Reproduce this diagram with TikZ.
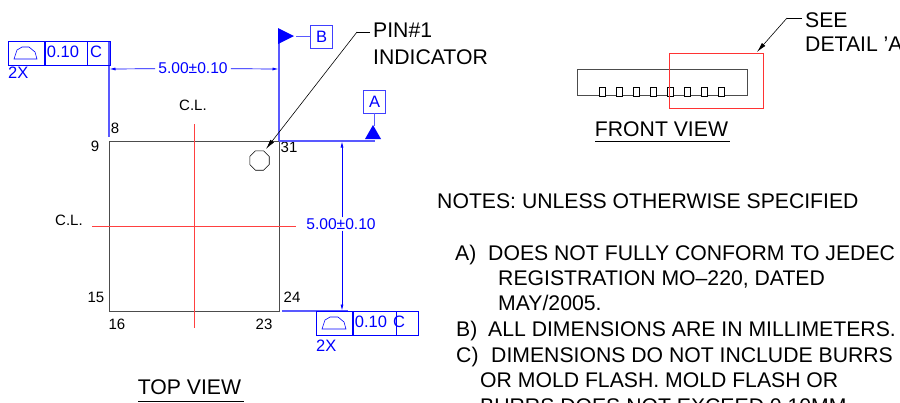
\documentclass[tikz,border=0pt]{standalone}
\usepackage{fontspec}
\setmainfont{Liberation Sans}
\usepackage{tikz}
\usetikzlibrary{arrows.meta,shapes}
\usetikzlibrary{positioning}
\tikzset{
	outline/.style={draw=black!70, line width=1pt},
	leader/.style={draw=black, line width=0.6pt},
	pointer/.style={draw=black, line width=0.6pt, -{Latex[length=10pt,width=4.5pt]}},
	centerline/.style={draw=red!75, line width=0.9pt},
	extline/.style={draw=blue!65, line width=1.2pt},
	dimline/.style={draw=blue, line width=0.7pt, -{Latex[length=6pt,width=3pt]}},
	dimtext/.style={text=blue, font=\fontsize{15.6}{15.6}\selectfont, inner xsep=3pt, inner ysep=1pt},
	fcfcell/.style={draw=blue, line width=0.7pt, minimum height=24pt, inner sep=0pt},
	fcftext/.style={text=blue, font=\fontsize{16.5}{16.5}\selectfont, inner sep=0pt},
	databox/.style={draw=blue!75, line width=0.9pt, minimum width=22pt, minimum height=23pt, inner sep=0pt, text=blue, font=\fontsize{16.5}{16.5}\selectfont},
	flag/.style={fill=blue, draw=none},
	pinno/.style={font=\fontsize{15}{15}\selectfont, inner sep=0pt},
	title/.style={font=\fontsize{21.2}{21.2}\selectfont, anchor=west, inner sep=0pt},
	note/.style={font=\fontsize{21.2}{21.2}\selectfont, anchor=base west, inner sep=0pt},
}
\begin{document}
\begin{tikzpicture}[x=1pt, y=-1pt]
	\useasboundingbox (0,0) rectangle (900,402);
	\clip (0,0) rectangle (900,402);
	% top view
	\node[draw=black!70, line width=1pt, minimum size=170pt, inner sep=0pt] (body) at (194,226) {};
	\coordinate (vtop) at (194,124);
	\coordinate (vbot) at (194,328);
	\coordinate (hleft) at (92,226);
	\coordinate (hright) at (296,226);
	\draw[centerline] (vtop) -- (vbot);
	\draw[centerline] (hleft) -- (hright);
	\node[pinno] at (193,105) {C.L.};
	\node[pinno] at (69,220) {C.L.};
	\node[pinno] at (115,128) {8};
	\node[pinno] at (95,146) {9};
	\node[pinno] at (289,147) {31};
	\node[pinno] at (96,297) {15};
	\node[pinno] at (292,297) {24};
	\node[pinno] at (117,324) {16};
	\node[pinno] at (264,324) {23};
	\node[draw=black, regular polygon, regular polygon sides=8, minimum size=21pt, inner sep=0pt, line width=0.6pt] (pinmark) at (259.5,160.5) {};
	% extension lines
	\coordinate (extLtop) at (109,41);
	\coordinate (extLbot) at (109,137);
	\coordinate (extRtop) at (279,30);
	\coordinate (extRbot) at (279,141);
	\coordinate (extAleft) at (279,141);
	\coordinate (extAright) at (375,141);
	\coordinate (extCleft) at (282,311);
	\coordinate (extCright) at (348,311);
	\draw[extline] (extLtop) -- (extLbot);
	\draw[extline] (extRtop) -- (extRbot);
	\draw[extline] (extAleft) -- (extAright);
	\draw[extline] (extCleft) -- (extCright);
	% dimensions
	\node[dimtext] (dimH) at (193,68.5) {5.00±0.10};
	\node[dimtext] (dimV) at (341,224) {5.00±0.10};
	\coordinate (dimHl) at (109.5,69);
	\coordinate (dimHr) at (278.5,69);
	\coordinate (dimVt) at (342,141.5);
	\coordinate (dimVb) at (342,310.5);
	\draw[dimline] (dimH) -- (dimHl);
	\draw[dimline] (dimH) -- (dimHr);
	\draw[dimline] (dimV.north -| dimVt) -- (dimVt);
	\draw[dimline] (dimV.south -| dimVb) -- (dimVb);
	% datum B
	\fill[flag] (278,28) -- (278,44) -- (294,36) -- cycle;
	\node[databox] (datB) at (321.5,36.5) {B};
	\coordinate (datBfoot) at (296,36.5);
	\draw[extline] (datBfoot) -- (datB);
	% datum A
	\fill[flag] (365,139) -- (381,139) -- (373,125) -- cycle;
	\node[databox] (datA) at (374.5,101.5) {A};
	\coordinate (datAfoot) at (374.5,126);
	\draw[extline] (datA) -- (datAfoot);
	% tolerance frames
	\begin{scope}[shift={(8,41)}]
		\node[fcfcell, minimum width=36pt, anchor=north west] (topdome) at (0,0) {};
		\node[fcfcell, minimum width=42pt, anchor=west] (topval) at (topdome.east) {};
		\node[fcfcell, minimum width=23pt, anchor=west] (topdat) at (topval.east) {};
		\node[fcftext] at (55,11) {0.10};
		\node[fcftext] at (88,11) {C};
		\draw[blue, line width=0.6pt] (6,18) -- (29,18) -- (27,11) -- (21,6) -- (14,6) -- (9,9) -- cycle;
		\node[fcftext, anchor=north west] at (0,26) {2X};
	\end{scope}
	\begin{scope}[shift={(316,311)}]
		\node[fcfcell, minimum width=36pt, anchor=north west] (botdome) at (0,0) {};
		\node[fcfcell, minimum width=43pt, anchor=west] (botval) at (botdome.east) {};
		\node[fcfcell, minimum width=22pt, anchor=west] (botdat) at (botval.east) {};
		\node[fcftext] at (55,10.5) {0.10};
		\node[fcftext] at (83,10.5) {C};
		\draw[blue, line width=0.6pt] (6,18) -- (30,18) -- (28,11) -- (22,6) -- (14,6) -- (9,9) -- cycle;
		\node[fcftext, anchor=north west] at (0,29) {2X};
	\end{scope}
	% pin 1 callout
	\node[title] (pinone) at (373,30) {PIN\#1};
	\node[title] at (373,57) {INDICATOR};
	\coordinate (pinelbow) at (357,32);
	\coordinate (pintip) at (266,149);
	\draw[leader] (pinone.west |- pinelbow) ++(-3,0) -- (pinelbow);
	\draw[pointer] (pinelbow) -- (pintip);
	\node[title, anchor=center] (topview) at (189.5,387) {TOP VIEW};
	\coordinate (topu) at (138,401);
	\coordinate (topv) at (244,401);
	\draw[leader] (topu) -- (topv);
	% front view
	\node[outline, minimum width=170pt, minimum height=26pt, inner sep=0pt] (package) at (662,82) {};
	\foreach \x in {602.3,619.3,636.3,653.3,670.3,687.3,704.3,721.7}
		\node[draw=black, fill=white, line width=0.6pt, minimum width=6pt, minimum height=9pt, inner sep=0pt] at (\x,92) {};
	\coordinate (detailnw) at (669.5,53.5);
	\coordinate (detailse) at (763,108);
	\draw[draw=red!80, line width=1pt] (detailnw) rectangle (detailse);
	\node[title] (seenote) at (805,20) {SEE};
	\node[title] at (805,44) {DETAIL 'A'};
	\coordinate (seeelbow) at (787,18);
	\coordinate (seeend) at (802,18);
	\coordinate (seetip) at (757,52);
	\draw[leader] (seeend) -- (seeelbow);
	\draw[pointer] (seeelbow) -- (seetip);
	\node[title, anchor=center] (frontview) at (661.5,129) {FRONT VIEW};
	\coordinate (frontu) at (595,141.5);
	\coordinate (frontv) at (730,141.5);
	\draw[leader] (frontu) -- (frontv);
	% notes
	\node[note] at (437,208) {NOTES: UNLESS OTHERWISE SPECIFIED};
	\node[note] at (455,260) {A)};
	\node[note] at (488,260) {DOES NOT FULLY CONFORM TO JEDEC};
	\node[note] at (498,285) {REGISTRATION MO–220, DATED};
	\node[note] at (498,310) {MAY/2005.};
	\node[note] at (456,336) {B)};
	\node[note] at (488,336) {ALL DIMENSIONS ARE IN MILLIMETERS.};
	\node[note] at (456,362) {C)};
	\node[note] at (491,362) {DIMENSIONS DO NOT INCLUDE BURRS};
	\node[note] at (480,387.5) {OR MOLD FLASH. MOLD FLASH OR};
	\node[note] at (480,413) {BURRS DOES NOT EXCEED 0.10MM.};
\end{tikzpicture}
\end{document}
